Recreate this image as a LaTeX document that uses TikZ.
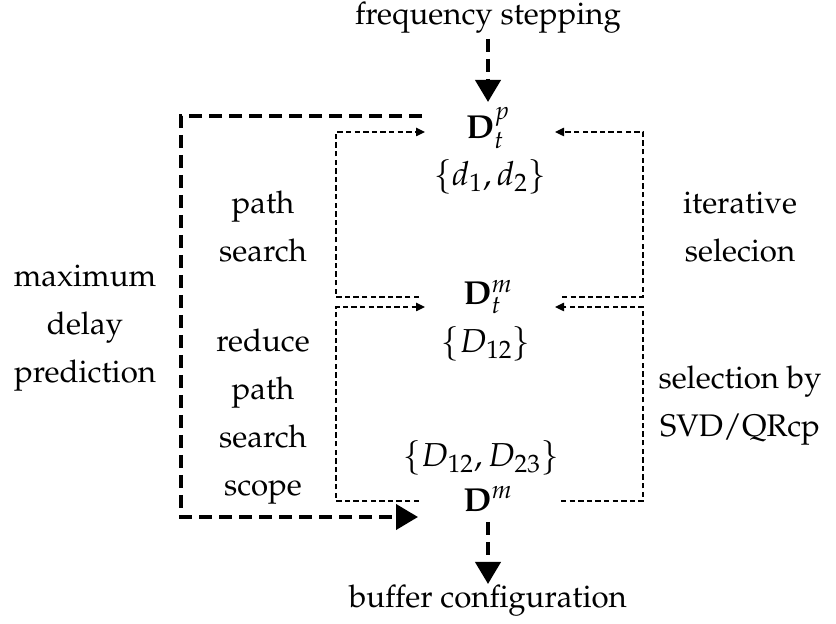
\documentclass[tikz,border=0pt]{standalone}
\usepackage[T1]{fontenc}
\usepackage{mathpazo}
\usetikzlibrary{arrows.meta}
\tikzset{
  thickdash/.style={line width=2pt, dash pattern=on 6.5pt off 3.5pt},
  thindash/.style={line width=0.6pt, dash pattern=on 2.7pt off 1.6pt},
  bighead/.style={-{Triangle[width=12.5pt,length=11pt]}},
  smallhead/.style={-{Triangle[width=4.2pt,length=4.5pt]}},
  lbl/.style={align=center, inner sep=0pt, font=\fontsize{15.6}{24}\selectfont},
  txt/.style={inner sep=0pt},
  mth/.style={inner sep=0pt, font=\fontsize{16.6}{19}\selectfont}
}
\begin{document}
\begin{tikzpicture}[x=0.5pt,y=-0.5pt, font=\fontsize{15.6}{18}\selectfont]
\useasboundingbox (0,0) rectangle (836,624);
% main nodes
\node[txt] (fs) at (488,18) {frequency stepping};
\node[mth] (Dtp) at (488,128) {$\mathbf{D}_t^p$};
\node[mth] (dset) at (490,177) {$\{d_1,d_2\}$};
\node[mth] (Dtm) at (488,297) {$\mathbf{D}_t^m$};
\node[mth] (Dset1) at (486,344) {$\{D_{12}\}$};
\node[mth] (Dset2) at (481,458) {$\{D_{12},D_{23}\}$};
\node[mth] (Dm) at (488,499) {$\mathbf{D}^m$};
\node[txt] (bc) at (488,601) {buffer configuration};
% side labels
\node[lbl] (ps) at (263,227) {path\\search};
\node[lbl] (rps) at (263,417) {reduce\\path\\search\\scope};
\node[lbl] (mdp) at (85,328) {maximum\\delay\\prediction};
\node[lbl] (its) at (740,227) {iterative\\selecion};
\node[lbl] (sel) at (740,406) {selection by\\SVD/QRcp};
% coordinates
\coordinate (a1) at (488,39);
\coordinate (a2) at (488,102);
\coordinate (b1) at (488,522);
\coordinate (b2) at (488,584);
\coordinate (t0) at (422,116);
\coordinate (t3) at (418,517);
\coordinate (pA0) at (419,297);
\coordinate (pA1) at (425,132);
\coordinate (pB0) at (419,501);
\coordinate (pB1) at (425,307);
\coordinate (pC0) at (562,297);
\coordinate (pC1) at (555,132);
\coordinate (pD0) at (561,501);
\coordinate (pD1) at (555,307);
% thick arrows
\draw[thickdash,bighead] (a1) -- (a2);
\draw[thickdash,bighead] (b1) -- (b2);
\draw[thickdash,bighead] (t0) -- (181,116) -- (181,517) -- (t3);
% thin arrows
\draw[thindash,smallhead] (pA0) -- (336,297) -- (336,132) -- (pA1);
\draw[thindash,smallhead] (pB0) -- (336,501) -- (336,307) -- (pB1);
\draw[thindash,smallhead] (pC0) -- (643,297) -- (643,132) -- (pC1);
\draw[thindash,smallhead] (pD0) -- (643,501) -- (643,307) -- (pD1);
\end{tikzpicture}
\end{document}
